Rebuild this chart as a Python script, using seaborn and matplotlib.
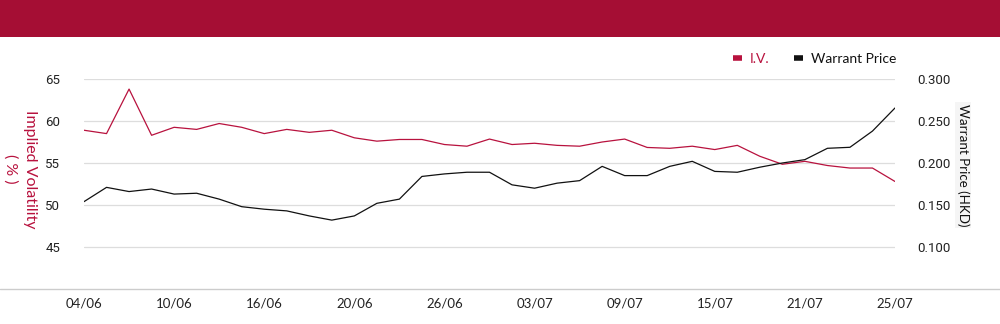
import matplotlib
matplotlib.use("Agg")
import matplotlib.pyplot as plt
import seaborn as sns
import pandas as pd
import numpy as np
from matplotlib.lines import Line2D
from matplotlib.patches import Rectangle

# ---- data ----
tick_labels = ["04/06", "10/06", "16/06", "20/06", "26/06",
               "03/07", "09/07", "15/07", "21/07", "25/07"]
tick_every = 4

iv = [58.9, 58.5, 63.8, 58.3, 59.25, 59.0, 59.7, 59.25, 58.5, 59.0,
      58.65, 58.9, 58.0, 57.6, 57.8, 57.8, 57.2, 57.0, 57.85, 57.2,
      57.35, 57.1, 57.0, 57.5, 57.85, 56.85, 56.75, 57.0, 56.6, 57.1,
      55.8, 54.85, 55.2, 54.7, 54.4, 54.4, 52.8]

warrant_price = [0.154, 0.171, 0.166, 0.169, 0.163, 0.164, 0.157, 0.148, 0.145, 0.143,
                 0.137, 0.132, 0.137, 0.152, 0.157, 0.184, 0.187, 0.189, 0.189, 0.174,
                 0.170, 0.176, 0.179, 0.196, 0.185, 0.185, 0.196, 0.202, 0.190, 0.189,
                 0.195, 0.200, 0.204, 0.2175, 0.2187, 0.238, 0.2655]

left_ticks = [45, 50, 55, 60, 65]
right_ticks = [0.100, 0.150, 0.200, 0.250, 0.300]

RED = "#B8123E"
BAND = "#A50E34"
GRID = "#DDDDDD"

df = pd.DataFrame({"idx": np.arange(len(iv)), "iv": iv, "wp": warrant_price})

sns.set_theme(style="white")
plt.rcParams["font.family"] = ["Lato", "DejaVu Sans"]

fig = plt.figure(figsize=(10, 3.24), dpi=100)
fig.patch.set_facecolor("white")

# top band
fig.add_artist(Rectangle((0, 1 - 37 / 324), 1, 37 / 324, transform=fig.transFigure,
                         facecolor=BAND, edgecolor="none"))
# bottom baseline
fig.add_artist(Line2D([0, 1], [1 - 289 / 324] * 2, transform=fig.transFigure,
                      color="#CCCCCC", lw=1.0))

ax = fig.add_axes([84 / 1000, 1 - 289 / 324, 811 / 1000, 210 / 324])
ax2 = ax.twinx()

sns.lineplot(data=df, x="idx", y="iv", ax=ax, color=RED, lw=0.9)
sns.lineplot(data=df, x="idx", y="wp", ax=ax2, color="#111111", lw=0.9)

ax.set_xlim(0, len(iv) - 1)
ax.set_ylim(40, 65)
ax2.set_ylim(0.05, 0.30)

ax.set_yticks(left_ticks)
ax.set_yticklabels([str(t) for t in left_ticks], fontfamily="Roboto", fontsize=9.5, color="#222222")
ax2.set_yticks(right_ticks)
ax2.set_yticklabels([f"{t:.3f}" for t in right_ticks], fontfamily="Roboto", fontsize=9.5, color="#222222")

xt = list(range(0, len(iv), tick_every))
ax.set_xticks(xt)
ax.set_xticklabels(tick_labels, fontsize=9.5, color="#222222")

ax.tick_params(axis="y", length=0, pad=17)
ax2.tick_params(axis="y", length=0, pad=16)
ax.tick_params(axis="x", length=0, pad=6)

for a in (ax, ax2):
    for s in a.spines.values():
        s.set_visible(False)
    a.set_xlabel("")
    a.set_ylabel("")
    a.set_facecolor("none")

ax.grid(False)
ax2.grid(False)
for t in left_ticks:
    ax.axhline(t, color=GRID, lw=0.9, zorder=0)

# axis titles
fig.text(20 / 1000, 1 - 169 / 324, "Implied Volatility\n( % )", rotation=270,
         ha="center", va="center", color=RED, fontsize=11.5, linespacing=1.45,
         multialignment="center")
fig.text(963 / 1000, 1 - 165 / 324, "Warrant Price (HKD)", rotation=270,
         ha="center", va="center", color="#111111", fontsize=9.6,
         bbox=dict(facecolor="#F5F5F5", edgecolor="none", pad=1.5))

# legend
handles = [Line2D([0], [0], color=RED, lw=4, solid_capstyle="butt"),
           Line2D([0], [0], color="#111111", lw=4, solid_capstyle="butt")]
leg = ax.legend(handles, ["I.V.", "Warrant Price"], loc="lower right",
                bbox_to_anchor=(1.008, 1.04), ncol=2, frameon=False,
                handlelength=0.65, handletextpad=0.55, columnspacing=1.8,
                fontsize=10, borderaxespad=0)
leg.get_texts()[0].set_color(RED)
leg.get_texts()[1].set_color("#111111")

fig.savefig("out.png", dpi=100)
